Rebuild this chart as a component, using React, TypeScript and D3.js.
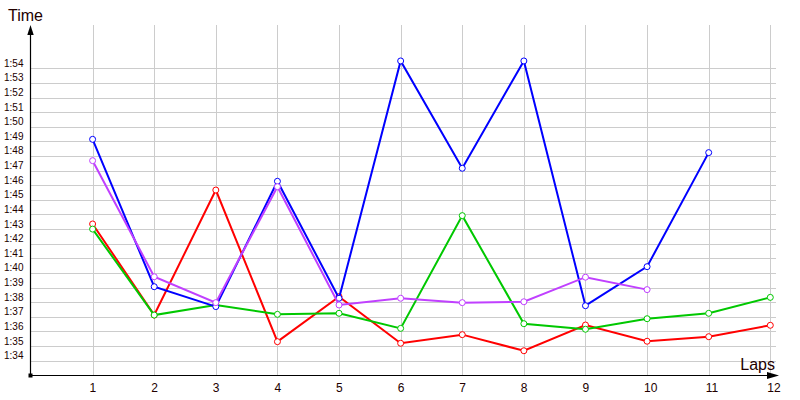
import React from 'react'
import * as d3 from 'd3'

// lap numbers and lap times in seconds (1:34 = 94)
const laps = [1, 2, 3, 4, 5, 6, 7, 8, 9, 10, 11, 12];
const timeTicks = [94, 95, 96, 97, 98, 99, 100, 101, 102, 103, 104, 105, 106, 107, 108, 109, 110, 111, 112, 113, 114];

const redTimes = [103.35, 97.12, 105.67, 95.3, 98.38, 95.19, 95.78, 94.68, 96.44, 95.33, 95.64, 96.42];
const greenTimes = [103.0, 97.12, 97.81, 97.17, 97.24, 96.21, 103.92, 96.53, 96.15, 96.87, 97.24, 98.33];
const blueTimes = [109.14, 99.06, 97.7, 106.27, 98.27, 114.5, 107.16, 114.5, 97.76, 100.43, 108.23];
const violetTimes = [107.68, 99.74, 97.97, 105.9, 97.81, 98.27, 97.97, 98.03, 99.71, 98.86];

const series = [
  {name: 'red', color: '#ff0000', values: redTimes},
  {name: 'green', color: '#00c800', values: greenTimes},
  {name: 'blue', color: '#0000ff', values: blueTimes},
  {name: 'violet', color: '#c040ff', values: violetTimes},
];

const fmt = (s: number) => `1:${String(s - 60).padStart(2, '0')}`;

export default function App() {
  const x = d3.scaleLinear().domain([0, 12]).range([31, 770.3]);
  const y = d3.scaleLinear().domain([93, 117]).range([375.3, 24.4]);

  const axisY = 375.5;
  const axisX = 30.5;

  const line = d3.line<number>()
    .x((d, i) => x(laps[i]))
    .y(d => y(d));

  return (
    <svg width="800" height="400" style={{position: 'fixed', left: 0, top: 0, background: '#fff'}}
         fontFamily="Liberation Sans, Arial, sans-serif">
      <rect width="800" height="400" fill="#fff"/>
      {/* grid */}
      <g stroke="#cccccc" strokeWidth="1">
        {timeTicks.map(t => (
          <line key={t} x1={axisX} x2={776} y1={Math.round(y(t)) + 0.5} y2={Math.round(y(t)) + 0.5}/>
        ))}
        {laps.map(l => (
          <line key={l} x1={Math.round(x(l)) + 0.5} x2={Math.round(x(l)) + 0.5} y1={25} y2={axisY}/>
        ))}
      </g>

      {/* axes */}
      <g stroke="#000" strokeWidth="1.2">
        <line x1={axisX} x2={axisX} y1={axisY} y2={32}/>
        <line x1={axisX} x2={770} y1={axisY} y2={axisY}/>
      </g>
      <path d={`M${axisX},25 L${axisX - 3.2},35 L${axisX + 3.2},35 Z`} fill="#000"/>
      <path d={`M779,${axisY} L767,${axisY - 3.5} L767,${axisY + 3.5} Z`} fill="#000"/>
      <rect x={axisX - 2} y={axisY - 2} width="4" height="4" fill="#000"/>

      {/* tick labels */}
      <g fontSize="10" fill="#200">
        {timeTicks.map(t => (
          <text key={t} x={4} y={y(t) - 1.5}>{fmt(t)}</text>
        ))}
      </g>
      <g fontSize="12" fill="#200">
        {laps.map(l => (
          <text key={l} x={x(l) - 3} y={392}>{l}</text>
        ))}
      </g>
      <text x={8} y={21} fontSize="16" fill="#200">Time</text>
      <text x={775} y={370} fontSize="16" fill="#200" textAnchor="end">Laps</text>

      {/* series */}
      {series.map(s => (
        <g key={s.name}>
          <path d={line(s.values) || ''} fill="none" stroke={s.color} strokeWidth="2"/>
          {s.values.map((v, i) => (
            <circle key={i} cx={x(laps[i])} cy={y(v)} r="3" fill="#fff" stroke={s.color} strokeWidth="1"/>
          ))}
        </g>
      ))}
    </svg>
  )
}
